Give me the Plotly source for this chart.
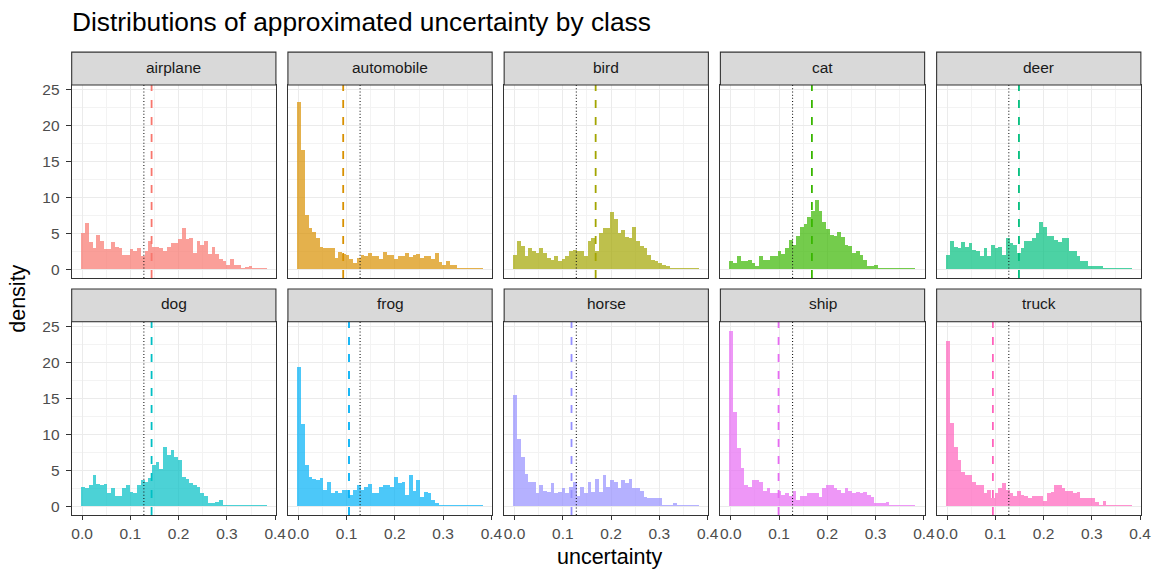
import plotly.graph_objects as go

# ---- data -------------------------------------------------------------
classes = ["airplane", "automobile", "bird", "cat", "deer",
           "dog", "frog", "horse", "ship", "truck"]

# histogram bins (density scale)
bin_start = -0.002
bin_width = 0.0077
n_bins = 50

density_airplane = [5.1, 6.5, 3.8, 2.9, 4.8, 4.0, 2.8, 2.8, 3.8, 3.1,
                    2.9, 2.0, 2.0, 2.8, 2.5, 2.9, 1.9, 2.6, 4.0, 3.1,
                    3.1, 3.0, 2.6, 3.1, 3.6, 3.7, 4.2, 5.8, 4.2, 4.3,
                    2.3, 4.0, 3.4, 4.0, 2.2, 3.1, 2.2, 1.4, 1.1, 0.6,
                    1.5, 0.55, 0.55, 0.18, 0.3, 0.4, 0.18, 0.18, 0.18, 0.18]
density_automobile = [23.3, 16.6, 7.6, 5.8, 5.2, 4.4, 3.1, 2.9, 2.9, 3.0,
                      1.6, 2.4, 2.1, 2.0, 1.5, 0.9, 1.6, 2.0, 1.8, 2.3,
                      1.9, 1.8, 1.4, 2.4, 2.0, 2.0, 1.5, 1.8, 1.9, 2.3,
                      1.7, 2.0, 2.1, 1.6, 1.9, 1.8, 1.5, 2.3, 1.0, 0.65,
                      1.2, 0.55, 0.55, 0.18, 0.18, 0.18, 0.18, 0.18, 0.18, 0.18]
density_bird = [2.0, 4.0, 3.3, 1.9, 2.9, 2.5, 2.3, 3.0, 2.3, 1.6,
                1.3, 1.8, 1.1, 1.5, 1.8, 2.5, 2.7, 2.5, 2.5, 1.8,
                4.0, 4.4, 2.6, 5.0, 5.8, 5.8, 8.0, 7.0, 5.1, 5.5,
                4.5, 4.4, 5.9, 4.0, 3.3, 2.9, 2.0, 1.3, 1.1, 0.9,
                0.65, 0.5, 0.22, 0.22, 0.18, 0.22, 0.18, 0.18, 0.18, 0.18]
density_cat = [1.1, 0.9, 1.8, 1.1, 1.1, 1.3, 0.9, 0.5, 1.9, 1.3,
               1.3, 1.8, 1.9, 2.6, 2.2, 3.0, 4.1, 3.4, 4.7, 5.9,
               6.3, 7.3, 8.1, 9.7, 8.1, 6.6, 5.6, 4.8, 4.7, 5.2,
               4.5, 3.4, 3.3, 2.3, 2.5, 2.0, 1.3, 0.4, 0.5, 0.65,
               0.18, 0.18, 0.18, 0.18, 0.18, 0.18, 0.18, 0.18, 0.18, 0.18]
density_deer = [2.0, 4.0, 3.1, 2.9, 3.8, 3.1, 3.6, 2.7, 2.6, 1.8,
                3.0, 1.9, 3.4, 3.0, 3.1, 2.0, 4.4, 3.6, 3.4, 2.3,
                3.0, 4.0, 4.0, 4.4, 5.1, 6.6, 5.9, 4.7, 4.7, 4.1,
                3.8, 4.4, 4.3, 2.6, 2.5, 1.8, 1.2, 1.2, 0.5, 0.5,
                0.4, 0.4, 0.22, 0.18, 0.22, 0.18, 0.18, 0.18, 0.18, 0.18]
density_dog = [2.7, 2.5, 2.9, 4.4, 3.1, 3.0, 3.1, 1.8, 2.6, 1.5,
               1.5, 2.6, 3.0, 2.0, 1.8, 2.9, 3.7, 3.4, 4.0, 5.8,
               6.1, 5.2, 8.3, 7.2, 7.9, 6.8, 6.5, 4.1, 3.8, 3.3,
               2.9, 2.7, 1.8, 1.5, 0.5, 0.5, 0.65, 0.9, 0.18, 0.18,
               0.18, 0.18, 0.18, 0.18, 0.18, 0.18, 0.18, 0.18, 0.18, 0.18]
density_frog = [19.4, 11.5, 5.8, 4.1, 3.8, 3.7, 4.0, 2.3, 3.4, 1.9,
                2.2, 1.9, 2.3, 2.3, 1.6, 2.3, 3.0, 2.3, 2.7, 3.1,
                1.8, 1.9, 2.7, 3.0, 3.0, 2.7, 4.1, 3.3, 3.4, 1.6,
                4.4, 2.2, 3.7, 1.3, 2.0, 1.8, 0.9, 0.4, 0.22, 0.18,
                0.18, 0.18, 0.18, 0.18, 0.18, 0.18, 0.18, 0.18, 0.18, 0.18]
density_horse = [15.5, 9.4, 6.9, 4.5, 3.4, 3.4, 1.9, 2.9, 2.2, 2.0,
                 3.3, 1.8, 2.0, 2.6, 1.9, 2.7, 3.4, 1.5, 2.7, 1.9,
                 3.4, 2.0, 3.8, 2.0, 4.3, 2.7, 3.7, 3.4, 2.6, 3.7,
                 3.3, 3.8, 2.5, 2.6, 2.2, 1.3, 1.1, 1.2, 1.2, 1.1,
                 0.22, 0.18, 0.18, 0.4, 0.18, 0.18, 0.18, 0.18, 0.18, 0.18]
density_ship = [24.4, 13.1, 8.1, 5.4, 2.9, 2.7, 3.6, 3.7, 3.4, 2.2,
                2.5, 1.9, 1.9, 2.2, 1.6, 1.8, 1.5, 2.2, 0.9, 1.5,
                1.5, 1.9, 1.8, 1.9, 1.3, 2.5, 2.9, 2.9, 2.5, 2.3,
                1.9, 2.6, 2.2, 1.9, 2.0, 1.8, 2.0, 1.6, 1.3, 0.5,
                0.4, 0.4, 0.65, 0.18, 0.22, 0.18, 0.18, 0.18, 0.18, 0.18]
density_truck = [23.0, 11.6, 8.3, 6.5, 4.8, 4.4, 4.3, 3.4, 3.0, 2.9,
                 1.9, 2.3, 1.2, 1.8, 2.6, 3.3, 2.3, 1.9, 1.5, 2.2,
                 1.6, 1.5, 1.2, 1.5, 1.5, 1.5, 0.8, 1.9, 2.0, 2.9,
                 3.0, 2.6, 2.2, 2.2, 1.8, 2.0, 1.1, 1.2, 1.2, 1.1,
                 0.65, 0.18, 0.8, 0.22, 0.18, 0.18, 0.18, 0.18, 0.18, 0.18]

densities = [density_airplane, density_automobile, density_bird, density_cat,
             density_deer, density_dog, density_frog, density_horse,
             density_ship, density_truck]

# mean uncertainty per class (dashed) and over all classes (dotted)
class_mean = [0.144, 0.093, 0.168, 0.168, 0.149, 0.144, 0.105, 0.118, 0.099, 0.095]
overall_mean = 0.128

x_ticks = [0.0, 0.1, 0.2, 0.3, 0.4]
x_tick_text = ["0.0", "0.1", "0.2", "0.3", "0.4"]
y_ticks = [0, 5, 10, 15, 20, 25]

hue = ["#F8766D", "#D89000", "#A3A500", "#39B600", "#00BF7D",
       "#00BFC4", "#00B0F6", "#9590FF", "#E76BF3", "#FF62BC"]

# ---- geometry (pixels) ------------------------------------------------
W, H = 1170, 572
panel_left = [72.3, 290.4, 508.5, 726.6, 944.7]
panel_w = 206.0
row_top = [81.5, 320.0]
panel_h = 194.5
strip_h = 33.0

FONT = "Liberation Sans, Arial, Helvetica, sans-serif"


def px(x):
    return x / W


def py(y):
    return 1 - y / H


def rgba(hex_color, a):
    h = hex_color.lstrip("#")
    r, g, b = int(h[0:2], 16), int(h[2:4], 16), int(h[4:6], 16)
    return f"rgba({r},{g},{b},{a})"


bin_centers = [bin_start + bin_width * (i + 0.5) for i in range(n_bins)]

fig = go.Figure()
shapes = []
annotations = []

for k, name in enumerate(classes):
    row, col = divmod(k, 5)
    idx = "" if k == 0 else str(k + 1)
    xa, ya = "x" + idx, "y" + idx
    left = panel_left[col]
    top = row_top[row]

    fig.add_trace(go.Bar(
        x=bin_centers, y=densities[k], width=bin_width,
        marker=dict(color=rgba(hue[k], 0.7), line=dict(width=0)),
        xaxis=xa, yaxis=ya, showlegend=False, hoverinfo="skip",
    ))

    common_grid = dict(
        showgrid=True, gridcolor="#EBEBEB", gridwidth=1.1,
        zeroline=False, showline=True, mirror=True,
        linecolor="#333333", linewidth=1.1,
    )
    fig.layout["xaxis" + idx] = dict(
        domain=[px(left), px(left + panel_w)],
        anchor=ya, range=[-0.0215, 0.4015],
        tickvals=x_ticks, ticktext=x_tick_text,
        showticklabels=(row == 1),
        ticks="outside" if row == 1 else "", ticklen=4,
        tickcolor="#333333", tickwidth=1,
        tickfont=dict(family=FONT, size=15.5, color="#4D4D4D"),
        minor=dict(showgrid=True, gridcolor="#F3F3F3", gridwidth=0.6,
                   tickvals=[0.05, 0.15, 0.25, 0.35]),
        fixedrange=True,
        **common_grid,
    )
    fig.layout["yaxis" + idx] = dict(
        domain=[py(top + panel_h), py(top)],
        anchor=xa, range=[-1.22, 25.62],
        tickvals=y_ticks,
        showticklabels=(col == 0),
        ticks="outside" if col == 0 else "", ticklen=5,
        ticklabelstandoff=3,
        tickcolor="#333333", tickwidth=1,
        tickfont=dict(family=FONT, size=15.5, color="#4D4D4D"),
        minor=dict(showgrid=True, gridcolor="#F3F3F3", gridwidth=0.6,
                   tickvals=[2.5, 7.5, 12.5, 17.5, 22.5]),
        fixedrange=True,
        **common_grid,
    )

    # overall mean (dotted) and class mean (dashed)
    shapes.append(dict(type="line", xref=xa, yref=ya + " domain",
                       x0=overall_mean, x1=overall_mean, y0=0, y1=1,
                       line=dict(color="#1A1A1A", width=1.1, dash="1px,2.2px"),
                       layer="above"))
    shapes.append(dict(type="line", xref=xa, yref=ya + " domain",
                       x0=class_mean[k], x1=class_mean[k], y0=0, y1=1,
                       line=dict(color=hue[k], width=1.8, dash="8px,9px"),
                       layer="above"))

    # facet strip
    shapes.append(dict(type="rect", xref="paper", yref="paper",
                       x0=px(left), x1=px(left + panel_w),
                       y0=py(top), y1=py(top - strip_h),
                       fillcolor="#D9D9D9",
                       line=dict(color="#333333", width=1.1), layer="above"))
    annotations.append(dict(xref="paper", yref="paper",
                            x=px(left + panel_w / 2), y=py(top - strip_h / 2 - 1.5),
                            text=name, showarrow=False,
                            xanchor="center", yanchor="middle",
                            font=dict(family=FONT, size=15.5, color="#1A1A1A")))

annotations.append(dict(xref="paper", yref="paper", x=px(71), y=py(18),
                        text="Distributions of approximated uncertainty by class",
                        showarrow=False, xanchor="left", yanchor="middle",
                        font=dict(family=FONT, size=26.3, color="black")))
annotations.append(dict(xref="paper", yref="paper", x=px(615), y=py(557),
                        text="uncertainty", showarrow=False,
                        xanchor="center", yanchor="middle",
                        font=dict(family=FONT, size=21.5, color="black")))
annotations.append(dict(xref="paper", yref="paper", x=px(18), y=py(297),
                        text="density", showarrow=False, textangle=-90,
                        xanchor="center", yanchor="middle",
                        font=dict(family=FONT, size=21.5, color="black")))

fig.update_layout(
    width=W, height=H,
    margin=dict(l=0, r=0, t=0, b=0),
    paper_bgcolor="white", plot_bgcolor="white",
    bargap=0, barmode="overlay",
    shapes=shapes, annotations=annotations,
    showlegend=False,
)

fig.write_html("out.html", config={"displayModeBar": False})
